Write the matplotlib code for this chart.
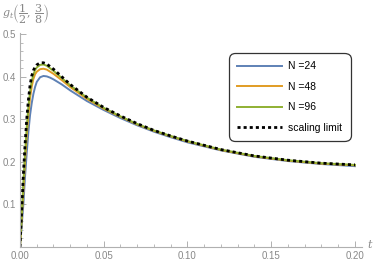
import matplotlib
matplotlib.use('Agg')
import matplotlib.pyplot as plt
from matplotlib.ticker import MultipleLocator

# data
t = [0, 0.001, 0.002, 0.003, 0.004, 0.005, 0.006, 0.007, 0.008, 0.009, 0.010, 0.012,
     0.014, 0.016, 0.018, 0.020, 0.025, 0.030, 0.040, 0.050, 0.060, 0.070, 0.080,
     0.090, 0.100, 0.120, 0.140, 0.160, 0.180, 0.200]
g_n24 = [0, 0.05, 0.10, 0.165, 0.22, 0.27, 0.31, 0.338, 0.36, 0.376, 0.388, 0.399,
         0.402, 0.401, 0.398, 0.394, 0.382, 0.368, 0.343, 0.322, 0.303, 0.286, 0.271,
         0.258, 0.246, 0.227, 0.212, 0.202, 0.195, 0.190]
g_n48 = [0, 0.065, 0.13, 0.20, 0.26, 0.31, 0.35, 0.377, 0.395, 0.406, 0.412, 0.418,
         0.419, 0.417, 0.412, 0.407, 0.392, 0.376, 0.348, 0.325, 0.306, 0.288, 0.273,
         0.260, 0.248, 0.228, 0.213, 0.203, 0.196, 0.192]
g_n96 = [0, 0.075, 0.15, 0.22, 0.28, 0.33, 0.365, 0.39, 0.405, 0.416, 0.422, 0.428,
         0.429, 0.426, 0.420, 0.414, 0.397, 0.380, 0.351, 0.327, 0.307, 0.289, 0.274,
         0.261, 0.249, 0.229, 0.214, 0.204, 0.197, 0.193]
g_limit = [0, 0.085, 0.17, 0.24, 0.30, 0.345, 0.38, 0.402, 0.415, 0.423, 0.428, 0.433,
           0.433, 0.430, 0.424, 0.418, 0.400, 0.382, 0.352, 0.328, 0.308, 0.290, 0.274,
           0.261, 0.249, 0.229, 0.214, 0.204, 0.197, 0.193]

plt.rcParams['font.family'] = ['Liberation Sans', 'DejaVu Sans']
plt.rcParams['mathtext.fontset'] = 'dejavuserif'

fig = plt.figure(figsize=(3.74, 2.65), dpi=100)
ax = fig.add_axes([20 / 374, 1 - 247 / 265, 342 / 374, 214 / 265])

ax.plot(t, g_n24, color='#5E81B5', lw=1.4, label='N =24')
ax.plot(t, g_n48, color='#E19C24', lw=1.4, label='N =48')
ax.plot(t, g_n96, color='#8FB032', lw=1.4, label='N =96')
ax.plot(t, g_limit, color='black', lw=2.0, dashes=(1.1, 1.1), label='scaling limit')

ax.set_xlim(0, 0.2042)
ax.set_ylim(0, 0.503)

gray = '#888888'
for side in ['top', 'right']:
    ax.spines[side].set_visible(False)
for side in ['left', 'bottom']:
    ax.spines[side].set_color('#b0b0b0')
    ax.spines[side].set_linewidth(0.8)

ax.xaxis.set_minor_locator(MultipleLocator(0.01))
ax.yaxis.set_minor_locator(MultipleLocator(0.02))
ax.set_xticks([0, 0.05, 0.10, 0.15, 0.20])
ax.set_xticklabels(['0.00', '0.05', '0.10', '0.15', '0.20'])
ax.set_yticks([0.1, 0.2, 0.3, 0.4, 0.5])
ax.set_yticklabels(['0.1', '0.2', '0.3', '0.4', '0.5'])
ax.tick_params(which='both', direction='in', color='#b0b0b0', labelcolor=gray,
               labelsize=7, pad=3)
ax.tick_params(which='major', length=4, width=0.7)
ax.tick_params(which='minor', length=2.2, width=0.6)

fig.text(2 / 374, 1 - 14 / 265, r'$g_t\left(\dfrac{1}{2},\,\dfrac{3}{8}\right)$',
         color=gray, fontsize=8, va='center', ha='left')
fig.text(367 / 374, 1 - 244 / 265, r'$t$', color=gray, fontsize=8,
         va='center', ha='left')

leg = ax.legend(loc='upper left', bbox_to_anchor=(229 / 374, 1 - 53 / 265),
                bbox_transform=fig.transFigure, fontsize=7.5, handlelength=4.3,
                handletextpad=0.6, labelspacing=1.0, borderpad=0.8,
                frameon=True, fancybox=True, framealpha=1, borderaxespad=0)
leg.get_frame().set_edgecolor('#333333')
leg.get_frame().set_linewidth(0.9)
leg.get_frame().set_boxstyle('round', pad=0, rounding_size=0.6)

fig.savefig('out.png', dpi=100)
